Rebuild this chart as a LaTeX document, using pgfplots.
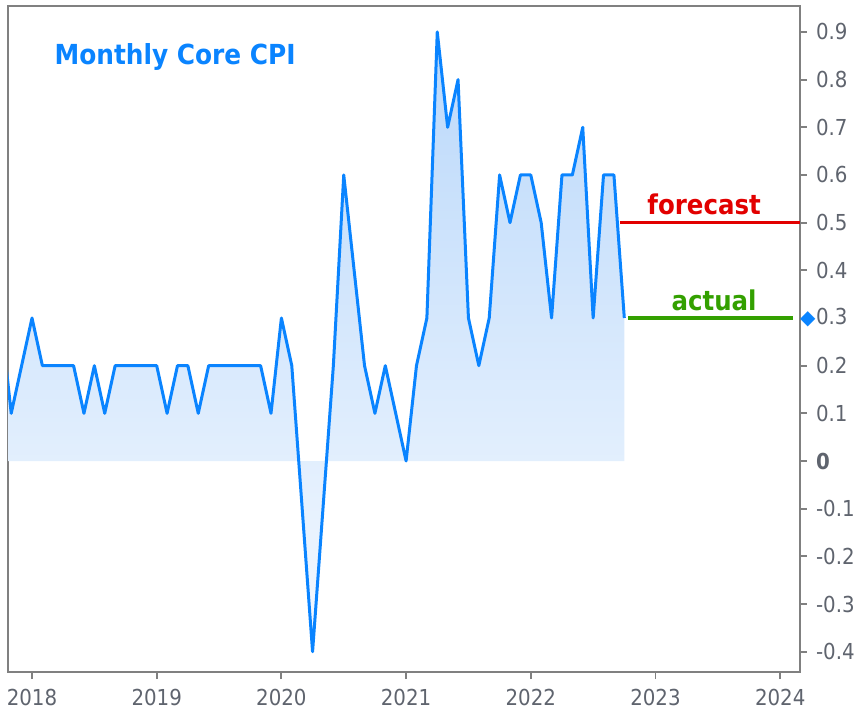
\documentclass[border=0pt]{standalone}
\usepackage{pgfplots}
\pgfplotsset{compat=1.18}
\usepackage{pgfplotstable}
\usepackage{fontspec}
\setmainfont{DejaVu Sans Condensed}
\newfontfamily\symfont{DejaVu Sans}
\definecolor{cpiblue}{RGB}{10,132,255}
\definecolor{fcred}{RGB}{226,0,0}
\definecolor{actgreen}{RGB}{51,160,0}
\definecolor{tickgrey}{RGB}{95,100,110}
\definecolor{axisgrey}{RGB}{128,128,128}
\definecolor{filltop}{RGB}{186,216,250}
\definecolor{fillbot}{RGB}{244,249,255}

\pgfplotstableread{
x y
2017.75 0.3
2017.8333 0.1
2017.9167 0.2
2018.0000 0.3
2018.0833 0.2
2018.1667 0.2
2018.2500 0.2
2018.3333 0.2
2018.4167 0.1
2018.5000 0.2
2018.5833 0.1
2018.6667 0.2
2018.7500 0.2
2018.8333 0.2
2018.9167 0.2
2019.0000 0.2
2019.0833 0.1
2019.1667 0.2
2019.2500 0.2
2019.3333 0.1
2019.4167 0.2
2019.5000 0.2
2019.5833 0.2
2019.6667 0.2
2019.7500 0.2
2019.8333 0.2
2019.9167 0.1
2020.0000 0.3
2020.0833 0.2
2020.1667 -0.1
2020.2500 -0.4
2020.3333 -0.1
2020.4167 0.2
2020.5000 0.6
2020.5833 0.4
2020.6667 0.2
2020.7500 0.1
2020.8333 0.2
2020.9167 0.1
2021.0000 0.0
2021.0833 0.2
2021.1667 0.3
2021.2500 0.9
2021.3333 0.7
2021.4167 0.8
2021.5000 0.3
2021.5833 0.2
2021.6667 0.3
2021.7500 0.6
2021.8333 0.5
2021.9167 0.6
2022.0000 0.6
2022.0833 0.5
2022.1667 0.3
2022.2500 0.6
2022.3333 0.6
2022.4167 0.7
2022.5000 0.3
2022.5833 0.6
2022.6667 0.6
2022.7500 0.3
}\cpidata

\begin{document}
\begin{tikzpicture}
\path[use as bounding box] (-4pt,-23.5pt) rectangle (426pt,336pt);
\begin{axis}[
  at={(0,0)}, anchor=south west,
  scale only axis, width=396pt, height=333pt,
  xmin=2017.8075, xmax=2024.159, ymin=-0.4426, ymax=0.9545,
  axis line style={axisgrey, line width=0.9pt},
  tick style={axisgrey, line width=0.9pt},
  major tick length=3.5pt,
  tick align=outside,
  xtick={2018,2019,2020,2021,2022,2023,2024},
  xticklabels={2018,2019,2020,2021,2022,2023,2024},
  xtick pos=bottom,
  ytick={-0.4,-0.3,-0.2,-0.1,0,0.1,0.2,0.4,0.5,0.6,0.7,0.8,0.9},
  yticklabels={-0.4,-0.3,-0.2,-0.1,\textbf{0},0.1,0.2,0.4,0.5,0.6,0.7,0.8,0.9},
  extra y ticks={0.3},
  extra y tick labels={\makebox[0pt][r]{\textcolor{cpiblue}{\symfont\fontsize{10}{10}\selectfont ◆}\hspace{0.3pt}}0.3},
  extra y tick style={tick style={draw=none}},
  ytick pos=right,
  yticklabel pos=right,
  ticklabel style={text=tickgrey, font=\fontsize{11}{13}\selectfont},
  xticklabel style={yshift=-1.5pt},
  yticklabel style={xshift=1pt},
  clip mode=individual,
]
\addplot[draw=none, top color=filltop, bottom color=fillbot, forget plot] table {\cpidata} \closedcycle;
\addplot[cpiblue, line width=1.5pt, line join=round] table {\cpidata};
\addplot[fcred, line width=1.6pt] coordinates {(2022.715,0.5) (2024.159,0.5)};
\addplot[actgreen, line width=1.6pt] coordinates {(2022.78,0.3) (2024.103,0.3)};
\node[fcred, font=\fontsize{13.6}{16}\bfseries\selectfont, anchor=base] at (axis cs:2023.39,0.517) {forecast};
\node[actgreen, font=\fontsize{13.6}{16}\bfseries\selectfont, anchor=base] at (axis cs:2023.47,0.315) {actual};
\node[cpiblue, font=\fontsize{13.8}{16}\bfseries\selectfont] at (rel axis cs:0.211,0.923) {Monthly Core CPI};
\end{axis}
\end{tikzpicture}
\end{document}
